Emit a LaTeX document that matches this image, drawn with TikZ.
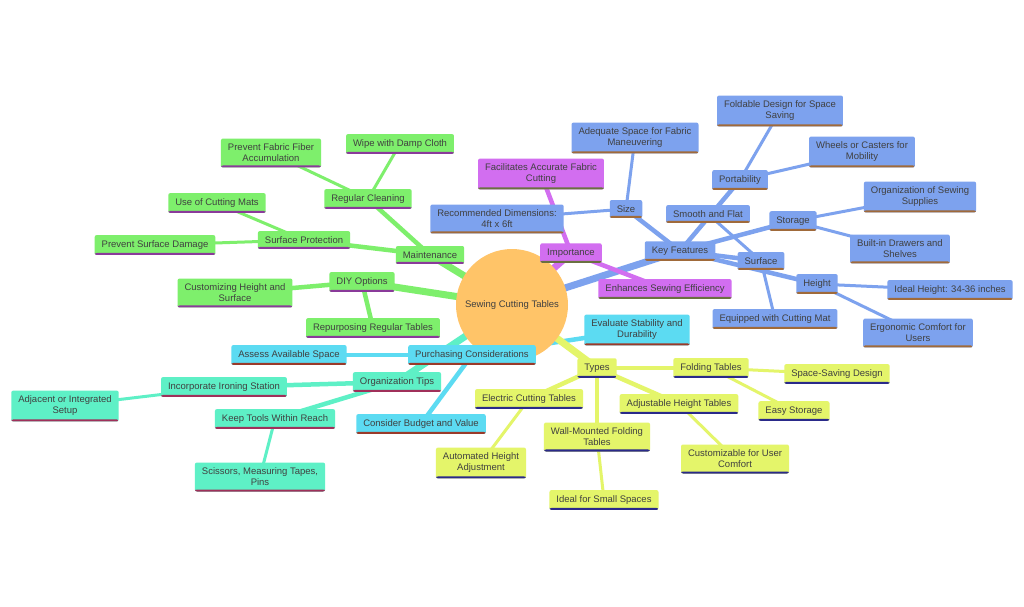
\documentclass[tikz,border=0pt]{standalone}
\usepackage{fontspec}
\setmainfont{Liberation Sans}
\pgfdeclarelayer{bg}\pgfsetlayers{bg,main}
\begin{document}
\begin{tikzpicture}[x=1pt,y=-1pt,
 mn/.style 2 args={fill=#1,rounded corners=2pt,inner xsep=7pt,inner ysep=5.5pt,align=center,font=\fontsize{9.5}{11}\selectfont,text=black!75,
   path picture={\fill[#2] (path picture bounding box.south west) rectangle ([yshift=2pt]path picture bounding box.south east);}},
 bl/.style={mn={bb}{ub}}, pu/.style={mn={pp}{up}}, gr/.style={mn={gg}{ug}},
 cy/.style={mn={cc}{uc}}, te/.style={mn={tt}{ut}}, ye/.style={mn={yy}{uy}},
 e1/.style={line width=7pt},e2/.style={line width=4.5pt},e3/.style={line width=3pt}]
\definecolor{bb}{HTML}{7DA2EE}\definecolor{ub}{HTML}{A06A3A}
\definecolor{pp}{HTML}{D26EF0}\definecolor{up}{HTML}{6A7040}
\definecolor{gg}{HTML}{7EEF6C}\definecolor{ug}{HTML}{8A3A9A}
\definecolor{cc}{HTML}{5CDBF2}\definecolor{uc}{HTML}{9A3A2A}
\definecolor{tt}{HTML}{5EF0C6}\definecolor{ut}{HTML}{A0305A}
\definecolor{yy}{HTML}{E4F56A}\definecolor{uy}{HTML}{2A2A8A}
\definecolor{rt}{HTML}{FFC468}
\useasboundingbox (0,0) rectangle (1024,606);
% nodes
\node[circle,fill=rt,minimum size=112pt,font=\fontsize{9.5}{11}\selectfont,text=black!75] (r) at (512,305) {Sewing Cutting Tables};
\node[bl] (kf) at (680,251) {Key Features};
\node[bl] (sz) at (626,209) {Size};
\node[bl] (rd) at (497,219) {Recommended Dimensions:\\4ft x 6ft};
\node[bl] (ad) at (635,138) {Adequate Space for Fabric\\Maneuvering};
\node[bl] (po) at (740,180) {Portability};
\node[bl] (fd) at (780,111) {Foldable Design for Space\\Saving};
\node[bl] (wh) at (862,152) {Wheels or Casters for\\Mobility};
\node[bl] (sf) at (708,214) {Smooth and Flat};
\node[bl] (st) at (793,221) {Storage};
\node[bl] (os) at (920,197) {Organization of Sewing\\Supplies};
\node[bl] (bd) at (900,249) {Built-in Drawers and\\Shelves};
\node[bl] (su) at (761,261) {Surface};
\node[bl] (he) at (817,284) {Height};
\node[bl] (ih) at (950,290) {Ideal Height: 34-36 inches};
\node[bl] (em) at (775,319) {Equipped with Cutting Mat};
\node[bl] (ec) at (918,333) {Ergonomic Comfort for\\Users};
\node[pu] (im) at (571,253) {Importance};
\node[pu] (fa) at (541,174) {Facilitates Accurate Fabric\\Cutting};
\node[pu] (es) at (665,289) {Enhances Sewing Efficiency};
\node[gr] (ma) at (430,255) {Maintenance};
\node[gr] (rc) at (368,199) {Regular Cleaning};
\node[gr] (wd) at (400,144) {Wipe with Damp Cloth};
\node[gr] (pf) at (271,153) {Prevent Fabric Fiber\\Accumulation};
\node[gr] (sp) at (304,240) {Surface Protection};
\node[gr] (uc) at (217,203) {Use of Cutting Mats};
\node[gr] (ps) at (155,245) {Prevent Surface Damage};
\node[gr] (di) at (362,282) {DIY Options};
\node[gr] (ch) at (235,293) {Customizing Height and\\Surface};
\node[gr] (rp) at (373,328) {Repurposing Regular Tables};
\node[cy] (pc) at (472,355) {Purchasing Considerations};
\node[cy] (ev) at (637,330) {Evaluate Stability and\\Durability};
\node[cy] (as) at (289,355) {Assess Available Space};
\node[cy] (cb) at (421,424) {Consider Budget and Value};
\node[te] (ot) at (397,382) {Organization Tips};
\node[te] (ii) at (224,387) {Incorporate Ironing Station};
\node[te] (ai) at (65,406) {Adjacent or Integrated\\Setup};
\node[te] (kt) at (275,419) {Keep Tools Within Reach};
\node[te] (sm) at (260,477) {Scissors, Measuring Tapes,\\Pins};
\node[ye] (ty) at (597,368) {Types};
\node[ye] (ft) at (711,368) {Folding Tables};
\node[ye] (ss) at (837,374) {Space-Saving Design};
\node[ye] (eas) at (794,411) {Easy Storage};
\node[ye] (ah) at (679,404) {Adjustable Height Tables};
\node[ye] (cu) at (735,459) {Customizable for User\\Comfort};
\node[ye] (ect) at (529,399) {Electric Cutting Tables};
\node[ye] (au) at (481,463) {Automated Height\\Adjustment};
\node[ye] (wm) at (597,437) {Wall-Mounted Folding\\Tables};
\node[ye] (is) at (604,500) {Ideal for Small Spaces};
% edges
\begin{pgfonlayer}{bg}
\fill[white] (0,0) rectangle (1024,606);
\draw[bb,e1] (r.center)--(kf.center);
\draw[bb,e2] (kf.center)--(sz.center); \draw[bb,e2] (kf.center)--(po.center); \draw[bb,e2] (kf.center)--(st.center); \draw[bb,e2] (kf.center)--(su.center); \draw[bb,e2] (kf.center)--(he.center);
\draw[bb,e3] (sz.center)--(rd.center); \draw[bb,e3] (sz.center)--(ad.center); \draw[bb,e3] (po.center)--(fd.center); \draw[bb,e3] (po.center)--(wh.center);
\draw[bb,e3] (st.center)--(os.center); \draw[bb,e3] (st.center)--(bd.center); \draw[bb,e3] (su.center)--(sf.center); \draw[bb,e3] (su.center)--(em.center);
\draw[bb,e3] (he.center)--(ih.center); \draw[bb,e3] (he.center)--(ec.center);
\draw[pp,e1] (r.center)--(im.center); \draw[pp,e2] (im.center)--(fa.center); \draw[pp,e2] (im.center)--(es.center);
\draw[gg,e1] (r.center)--(ma.center); \draw[gg,e1] (r.center)--(di.center);
\draw[gg,e2] (ma.center)--(rc.center); \draw[gg,e2] (ma.center)--(sp.center); \draw[gg,e3] (rc.center)--(wd.center); \draw[gg,e3] (rc.center)--(pf.center);
\draw[gg,e3] (sp.center)--(uc.center); \draw[gg,e3] (sp.center)--(ps.center); \draw[gg,e2] (di.center)--(ch.center); \draw[gg,e2] (di.center)--(rp.center);
\draw[cc,e1] (r.center)--(pc.center); \draw[cc,e2] (pc.center)--(ev.center); \draw[cc,e2] (pc.center)--(as.center); \draw[cc,e2] (pc.center)--(cb.center);
\draw[tt,e1] (r.center)--(ot.center); \draw[tt,e2] (ot.center)--(ii.center); \draw[tt,e2] (ot.center)--(kt.center); \draw[tt,e3] (ii.center)--(ai.center); \draw[tt,e3] (kt.center)--(sm.center);
\draw[yy,e1] (r.center)--(ty.center); \draw[yy,e2] (ty.center)--(ft.center); \draw[yy,e2] (ty.center)--(ah.center); \draw[yy,e2] (ty.center)--(ect.center); \draw[yy,e2] (ty.center)--(wm.center);
\draw[yy,e3] (ft.center)--(ss.center); \draw[yy,e3] (ft.center)--(eas.center); \draw[yy,e3] (ah.center)--(cu.center); \draw[yy,e3] (ect.center)--(au.center); \draw[yy,e3] (wm.center)--(is.center);
\end{pgfonlayer}
\end{tikzpicture}
\end{document}
